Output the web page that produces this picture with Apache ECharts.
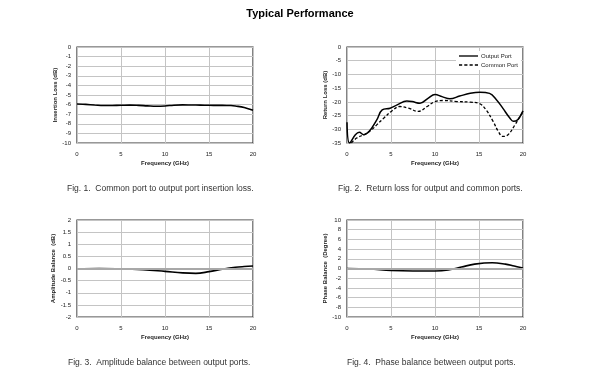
<!DOCTYPE html>
<html><head><meta charset="utf-8">
<script src="https://cdn.jsdelivr.net/npm/echarts@6/dist/echarts.min.js"></script>
<style>html,body{margin:0;padding:0;background:#fff}#c{width:600px;height:377px}</style>
</head><body><div id="c"></div>
<script>
// ---- Data ----
const mainTitle = "Typical Performance";
const captions = [
  "Fig. 1.  Common port to output port insertion loss.",
  "Fig. 2.  Return loss for output and common ports.",
  "Fig. 3.  Amplitude balance between output ports.",
  "Fig. 4.  Phase balance between output ports."
];
const xName = "Frequency (GHz)";
const yNames = ["Insertion Loss (dB)", "Return Loss (dB)", "Amplitude Balance  (dB)", "Phase Balance  (Degree)"];

const ilFreq = [0,1,2,3,4,5,6,7,8,9,10,11,12,13,14,15,16,17,17.5,18,19,20];
const ilVals = [-5.93,-5.98,-6.04,-6.1,-6.09,-6.07,-6.05,-6.08,-6.13,-6.17,-6.14,-6.06,-6.03,-6.04,-6.05,-6.07,-6.08,-6.09,-6.1,-6.15,-6.3,-6.6];

const outFreq = [0,0.3,0.95,1.4,1.9,2.3,2.8,3.4,4,4.9,5.7,6.8,7.4,8.3,9.2,10,10.8,11.7,12.8,14,15.1,16.2,17,17.7,18.5,18.9,19.4,20];
const outVals = [-27.4,-35,-32,-31.1,-32,-31.4,-29.6,-26.5,-22.9,-22.3,-21.1,-19.7,-19.9,-20.5,-18.7,-17.3,-18.1,-18.9,-17.9,-16.9,-16.5,-16.9,-19.3,-22.3,-25.9,-27.1,-26.5,-23.3];
const comFreq = [0.5,1.1,2.1,2.8,3.4,4.2,5.1,6,7,8.1,9.1,10,10.9,12.5,14,15.1,15.8,16.6,17.2,17.7,18.3,19.1,19.6,20];
const comVals = [-35,-33.2,-31.7,-30.2,-28.3,-25.9,-23.3,-21.7,-22.3,-23.5,-21.7,-19.9,-19.5,-19.9,-20.1,-20.7,-22.9,-27.1,-30.8,-32.6,-32,-28.3,-25.7,-23.5];
const seriesNames = ["Output Port", "Common Port"];

const ampFreq = [0,2.5,5,7.5,10,12,13.5,15,16.5,18,19,20];
const ampVals = [-0.02,0,-0.01,-0.05,-0.12,-0.18,-0.2,-0.13,-0.03,0.05,0.08,0.1];

const phFreq = [0,2.5,5,7.5,10,11.5,13,14.5,16.5,18,19,20];
const phVals = [0,-0.1,-0.4,-0.5,-0.5,-0.3,0.3,0.9,1.2,0.9,0.5,0.1];

const yRanges = [[-10,0,1],[-35,0,5],[-2,2,0.5],[-10,10,2]];

// ---- Build ----
const zip = (a,b) => a.map((x,i)=>[x,b[i]]);
const FONT = "Liberation Sans";
const grids = [
  {left:77, top:47, width:176, height:96},
  {left:347, top:47, width:176, height:96},
  {left:77, top:220, width:176, height:97},
  {left:347, top:220, width:176, height:97}
];
const xAxes = grids.map((g,i)=>({
  type:'value', gridIndex:i, min:0, max:20, interval:5,
  name:xName, nameLocation:'middle', nameGap:17,
  nameTextStyle:{fontFamily:FONT, fontSize:6, fontWeight:'bold', color:'#222'},
  axisLine:{show:false}, axisTick:{show:false},
  axisLabel:{fontFamily:FONT, fontSize:6, color:'#222', margin:8},
  splitLine:{show:true, lineStyle:{color:'#c4c4c4', width:1}}
}));
const yAxes = grids.map((g,i)=>({
  type:'value', gridIndex:i, min:yRanges[i][0], max:yRanges[i][1], interval:yRanges[i][2],
  name:yNames[i], nameLocation:'middle', nameGap:18,
  nameTextStyle:{fontFamily:FONT, fontSize:6, fontWeight:'bold', color:'#222'},
  axisLine:{show:false}, axisTick:{show:false},
  axisLabel:{fontFamily:FONT, fontSize:6, color:'#222', margin:6},
  splitLine:{show:true, lineStyle:{color:'#c4c4c4', width:1}}
}));
const lineBase = {type:'line', showSymbol:false, symbol:'none', smooth:0.4, clip:true};
const zeroLine = {silent:true, symbol:'none', label:{show:false}, lineStyle:{color:'#a8a8a8', width:2, type:'solid'}, data:[{yAxis:0}]};
const series = [
  Object.assign({}, lineBase, {xAxisIndex:0, yAxisIndex:0, data:zip(ilFreq, ilVals), lineStyle:{color:'#000', width:1.6}}),
  Object.assign({}, lineBase, {name:seriesNames[0], xAxisIndex:1, yAxisIndex:1, data:zip(outFreq, outVals), lineStyle:{color:'#000', width:1.5}, itemStyle:{color:'#000'}}),
  Object.assign({}, lineBase, {name:seriesNames[1], xAxisIndex:1, yAxisIndex:1, data:zip(comFreq, comVals), lineStyle:{color:'#000', width:1.3, type:[3,2]}, itemStyle:{color:'#000'}}),
  Object.assign({}, lineBase, {xAxisIndex:2, yAxisIndex:2, data:zip(ampFreq, ampVals), lineStyle:{color:'#000', width:1.6}, markLine:zeroLine, z:3}),
  Object.assign({}, lineBase, {xAxisIndex:3, yAxisIndex:3, data:zip(phFreq, phVals), lineStyle:{color:'#000', width:1.6}, markLine:zeroLine, z:3})
];
const capPos = [[67,189],[338,189],[68,363],[347,363]];
const graphic = [
  {type:'text', left:'center', top:8, style:{text:mainTitle, font:'bold 11px "Liberation Sans"', fill:'#000'}, x:-4},
].concat(captions.map((c,i)=>({type:'text', x:capPos[i][0], y:capPos[i][1], style:{text:c, font:'8.5px "Liberation Sans"', fill:'#333', textVerticalAlign:'middle'}})));
grids.forEach(g=>{ g.show=true; g.borderColor='#333'; g.borderWidth=1.2; g.backgroundColor='transparent'; });

const solidIcon = 'path://M0,0h20v1.4h-20z';
const dashIcon = 'path://M0,0h3v1.2h-3z M5,0h3v1.2h-3z M10,0h3v1.2h-3z M15,0h3v1.2h-3z';
const chart = echarts.init(document.getElementById('c'), null, {renderer:'canvas'});
chart.setOption({
  animation:false,
  backgroundColor:'#fff',
  grid:grids, xAxis:xAxes, yAxis:yAxes, series:series,
  legend:{data:[{name:seriesNames[0], icon:solidIcon},{name:seriesNames[1], icon:dashIcon}],
    orient:'vertical', left:456, top:51, itemWidth:19, itemHeight:1.4, itemGap:3,
    backgroundColor:'#fff', padding:[2,3,2,3],
    itemStyle:{color:'#000', borderWidth:0},
    textStyle:{fontFamily:FONT, fontSize:6, color:'#222', padding:[0,0,0,-2]}},
  graphic:graphic
});
</script></body></html>
